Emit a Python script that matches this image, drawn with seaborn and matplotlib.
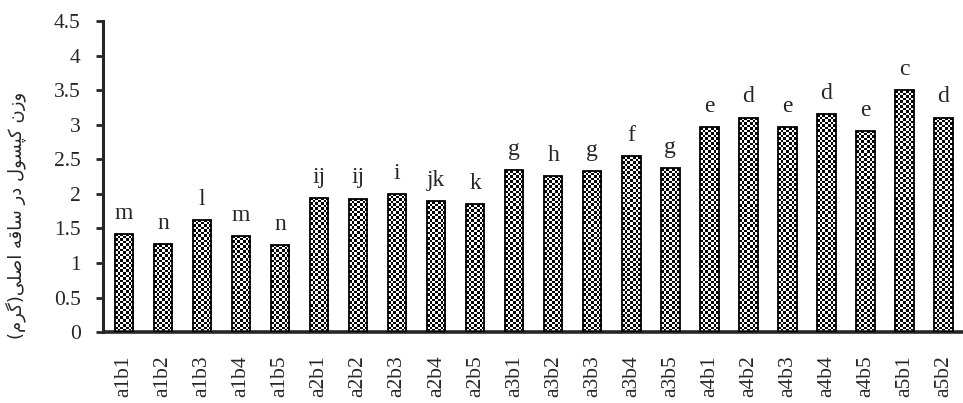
import numpy as np
import seaborn as sns
import matplotlib
matplotlib.use('Agg')
import matplotlib.pyplot as plt

treatments = ['a1b1', 'a1b2', 'a1b3', 'a1b4', 'a1b5',
              'a2b1', 'a2b2', 'a2b3', 'a2b4', 'a2b5',
              'a3b1', 'a3b2', 'a3b3', 'a3b4', 'a3b5',
              'a4b1', 'a4b2', 'a4b3', 'a4b4', 'a4b5',
              'a5b1', 'a5b2']
capsule_weight = [1.42, 1.27, 1.62, 1.39, 1.26,
                  1.94, 1.93, 2.00, 1.89, 1.85,
                  2.34, 2.26, 2.33, 2.54, 2.37,
                  2.96, 3.10, 2.96, 3.15, 2.91,
                  3.50, 3.10]
groups = ['m', 'n', 'l', 'm', 'n',
          'ij', 'ij', 'i', 'jk', 'k',
          'g', 'h', 'g', 'f', 'g',
          'e', 'd', 'e', 'd', 'e',
          'c', 'd']
y_ticks = [0, 0.5, 1, 1.5, 2, 2.5, 3, 3.5, 4, 4.5]
y_label = 'وزن کپسول در ساقه اصلی(گرم)'

# presentation forms: isolated, final, initial, medial
FORMS = {
    'و': '\uFEED\uFEEE\uFEED\uFEEE', 'ز': '\uFEAF\uFEB0\uFEAF\uFEB0',
    'د': '\uFEA9\uFEAA\uFEA9\uFEAA', 'ر': '\uFEAD\uFEAE\uFEAD\uFEAE',
    'ا': '\uFE8D\uFE8E\uFE8D\uFE8E',
    'ن': '\uFEE5\uFEE6\uFEE7\uFEE8', 'ک': '\uFB8E\uFB8F\uFB90\uFB91',
    'پ': '\uFB56\uFB57\uFB58\uFB59', 'س': '\uFEB1\uFEB2\uFEB3\uFEB4',
    'ل': '\uFEDD\uFEDE\uFEDF\uFEE0', 'ق': '\uFED5\uFED6\uFED7\uFED8',
    'ه': '\uFEE9\uFEEA\uFEEB\uFEEC', 'ص': '\uFEB9\uFEBA\uFEBB\uFEBC',
    'ی': '\uFBFC\uFBFD\uFBFE\uFBFF', 'گ': '\uFB92\uFB93\uFB94\uFB95',
    'م': '\uFEE1\uFEE2\uFEE3\uFEE4',
}
RIGHT_ONLY = set('وزدرا')


def shape_rtl(text):
    """Join the letters by hand and flip to visual order (matplotlib has no shaping)."""
    out = []
    for i, ch in enumerate(text):
        if ch not in FORMS:
            out.append(ch)
            continue
        prev = text[i - 1] if i > 0 else ''
        nxt = text[i + 1] if i + 1 < len(text) else ''
        join_prev = prev in FORMS and prev not in RIGHT_ONLY
        join_next = nxt in FORMS and ch not in RIGHT_ONLY
        idx = {(False, False): 0, (True, False): 1, (False, True): 2, (True, True): 3}[(join_prev, join_next)]
        out.append(FORMS[ch][idx])
    vis = ''.join(out)[::-1]
    return vis.translate(str.maketrans('()', ')('))


sns.set_style('ticks')
plt.rcParams['font.family'] = ['Liberation Serif', 'DejaVu Sans']

fig = plt.figure(figsize=(9.63, 4.03), dpi=100)
ax = fig.add_axes([0.107, 0.176, 0.893, 0.772])

sns.barplot(x=treatments, y=capsule_weight, color='white', edgecolor='black',
            linewidth=1.3, width=0.47, saturation=1, ax=ax)

ax.set_ylim(0, 4.5)
ax.set_xlim(-0.54, 21.5)
ax.set_yticks(y_ticks)
ax.set_yticklabels([f'{t:g}' for t in y_ticks], fontsize=15.5)

# checkered fill, clipped to each bar
fig.canvas.draw()
px_per_unit = ax.transData.transform((0, 1))[1] - ax.transData.transform((0, 0))[1]
for p in ax.patches:
    x0, w, h = p.get_x(), p.get_width(), p.get_height()
    n_rows = max(int(round(h * px_per_unit / 2.55)), 1)
    n_cols = 7
    board = (np.add.outer(np.arange(n_rows), np.arange(n_cols)) % 2).astype(float)
    im = ax.imshow(board, cmap='gray', vmin=0, vmax=1, interpolation='nearest',
                   aspect='auto', extent=(x0, x0 + w, 0, h), zorder=2)
    im.set_clip_path(p)
    p.set_facecolor('none')
    p.set_zorder(3)

ax.set_ylim(0, 4.5)
ax.set_xlim(-0.54, 21.5)

for i, (v, g) in enumerate(zip(capsule_weight, groups)):
    ax.annotate(g, (i, v), xytext=(0, 11), textcoords='offset points',
                ha='center', va='baseline', fontsize=17)

ax.tick_params(axis='x', length=0, pad=17, labelsize=15.5, labelrotation=90)
ax.tick_params(axis='y', length=5, width=2, pad=11, direction='out')
for lbl in ax.get_xticklabels():
    lbl.set_va('top')
    lbl.set_ha('center')

sns.despine(ax=ax)
ax.spines['left'].set_linewidth(2.2)
ax.spines['bottom'].set_linewidth(2.6)
ax.spines['bottom'].set_capstyle('butt')
ax.set_xlabel('')
ax.set_ylabel('')

fig.text(16 / 963, 1 - 215 / 403, shape_rtl(y_label), rotation=90,
         ha='center', va='center', fontsize=13, family=['DejaVu Sans'])

fig.savefig('out.png', dpi=100)
